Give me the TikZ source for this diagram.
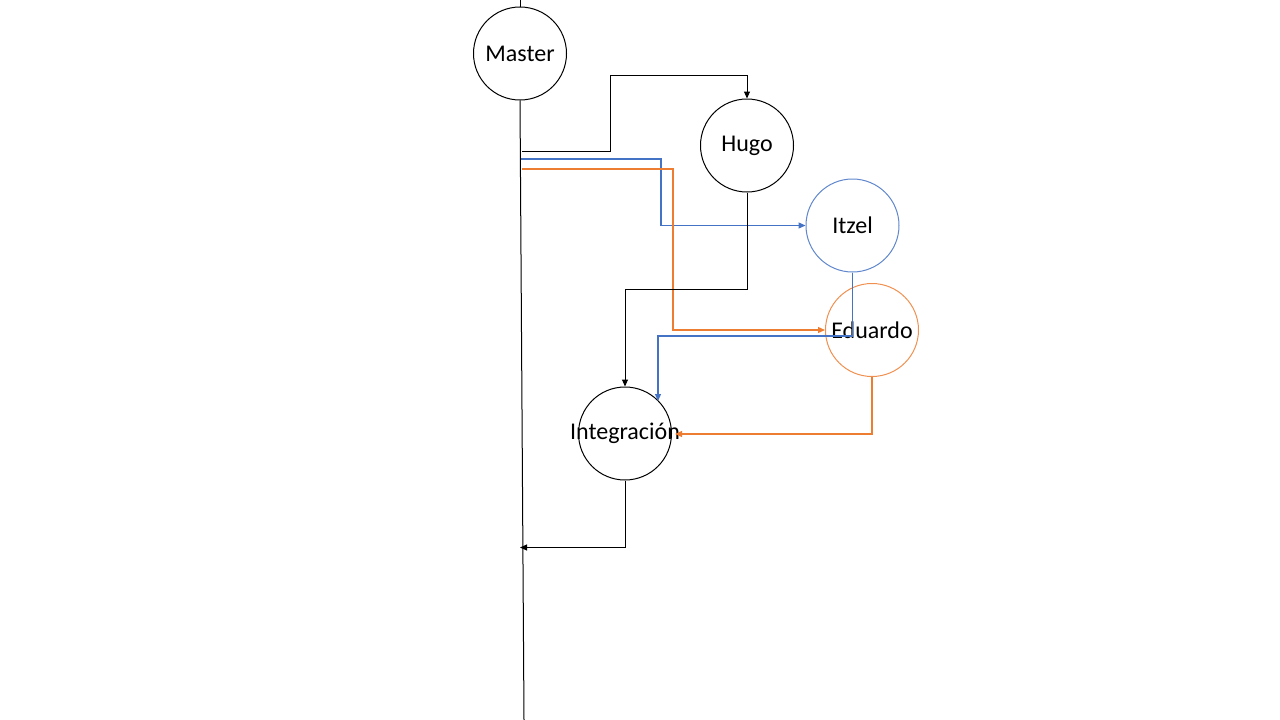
\documentclass[tikz,border=0pt]{standalone}
\usepackage{fontspec}
\setmainfont{Carlito}
\usetikzlibrary{arrows.meta}
\definecolor{itzelblue}{HTML}{4472C4}
\definecolor{eduorange}{HTML}{ED7D31}
\begin{document}
\begin{tikzpicture}[
          x=1pt, y=-1pt,
          line width=1pt,
          branch/.style={circle, draw, minimum size=93pt, inner sep=0pt,
            font=\fontsize{24}{28}\selectfont},
          merge/.style={-{Triangle[length=7pt,width=6pt]}},
          colmerge/.style={merge, line width=1.2pt}
        ]
        \useasboundingbox (0,0) rectangle (1280,720);
        % ramas
        \node[branch] (master) at (520,53.5) {Master};
        \node[branch] (hugo) at (747,145.5) {Hugo};
        \node[branch, draw=itzelblue!85] (itzel) at (852.5,225.5) {Itzel};
        \node[branch, draw=eduorange!85] (eduardo) at (872,330) {Eduardo};
        \node[branch] (integ) at (625,433.5) {\makebox[0pt]{Integración}};
        \coordinate (top) at (520,0);
        \coordinate (bottom) at (524,720);
        \coordinate (outH) at (522,151.5);
        \coordinate (outI) at (521,159);
        \coordinate (outE) at (522,169);
        \coordinate (back) at (520,547.5);
        % linea principal
        \draw (top) -- (master.north);
        \draw (master.south) -- (bottom);
        % salidas de master
        \draw[merge] (outH) -- (610.5,151.5) -- (610.5,75.5) -| (hugo.north);
        \draw[colmerge, itzelblue] (outI) -- (661,159) |- (itzel.west);
        \draw[colmerge, eduorange] (outE) -- (673,169) |- (eduardo.west);
        % hacia integracion
        \draw[merge] (hugo.south) -- (747,289.5) -| (integ.north);
        \draw[colmerge, itzelblue] (itzel.south) -- (852.5,336) -| (658,401);
        \draw[colmerge, eduorange] (eduardo.south) |- (675,434);
        \draw[merge] (integ.south) |- (back);
\end{tikzpicture}
\end{document}
